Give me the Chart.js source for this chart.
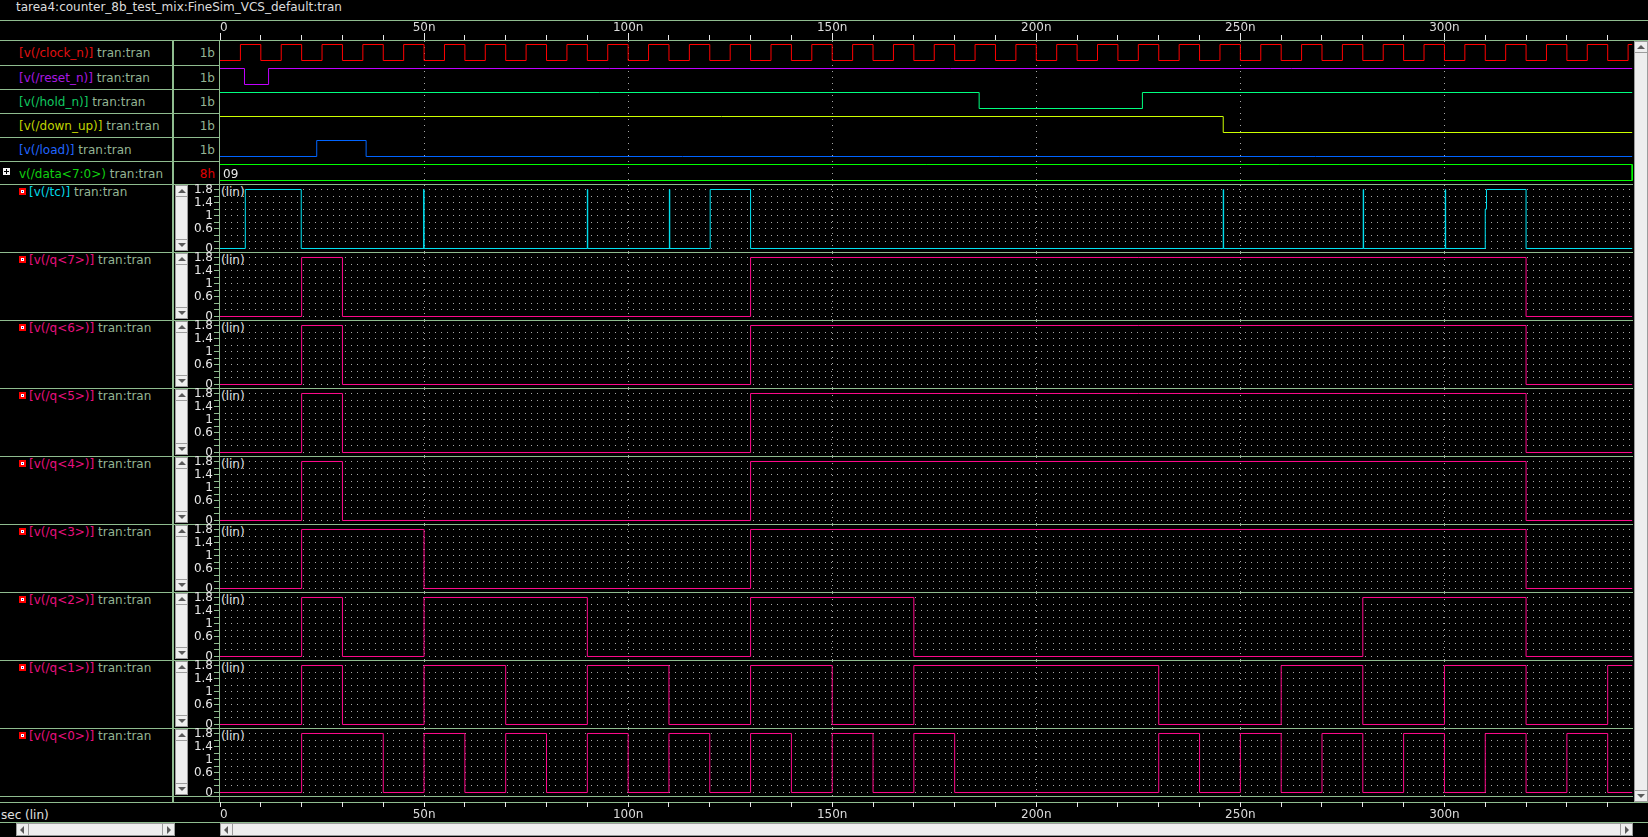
<!DOCTYPE html>
<html>
<head>
<meta charset="utf-8">
<script src="https://cdn.jsdelivr.net/npm/chart.js"></script>
<style>
html,body{margin:0;padding:0;background:#000;}
body{width:1648px;height:837px;overflow:hidden;position:relative;font-family:"DejaVu Sans",sans-serif;font-size:12px;color:#e0e0e0;}
.txt{position:absolute;white-space:nowrap;line-height:15px;height:15px;}
.hl{position:absolute;height:1px;background:#8fbc8f;}
.vl{position:absolute;width:1px;background:#8fbc8f;}
canvas{position:absolute;}
.sb{position:absolute;background:#eeeeee;box-sizing:border-box;border:1px solid #9c9c9c;}
.btn{position:absolute;background:#eeeeee;box-sizing:border-box;border:1px solid #9c9c9c;}
.tri{position:absolute;width:0;height:0;}
.box{position:absolute;}
</style>
</head>
<body>
<script>
// ===================== DATA =====================
const simEnd = 346;        // ns, end of the drawn traces
const viewEnd = 346.2;     // ns, right edge of the visible window
const vdd = 1.8;           // V, logic high of analog traces

// time axis
const axisTickValues = [0,10,20,30,40,50,60,70,80,90,100,110,120,130,140,150,160,170,180,190,200,210,220,230,240,250,260,270,280,290,300,310,320,330,340];
const axisLabelValues = [0,50,100,150,200,250,300];
const axisLabels = ['0','50n','100n','150n','200n','250n','300n'];

// analog y axis
const voltGridValues = [0,0.2,0.4,0.6,0.8,1,1.2,1.4,1.6,1.8];
const voltLabelValues = [0,0.6,1,1.4,1.8];
const voltLabels = ['0','0.6','1','1.4','1.8'];

// digital (1b) signals: start level + toggle times (ns)
const clockStart = 0;
const clockEdges = [5,10,15,20,25,30,35,40,45,50,55,60,65,70,75,80,85,90,95,100,105,110,115,120,125,130,135,140,145,150,155,160,165,170,175,180,185,190,195,200,205,210,215,220,225,230,235,240,245,250,255,260,265,270,275,280,285,290,295,300,305,310,315,320,325,330,335,340,345];
const resetStart = 1;
const resetEdges = [6, 11.9];
const holdStart = 1;
const holdEdges = [186, 226];
const downUpStart = 1;
const downUpEdges = [245.8];
const loadStart = 0;
const loadEdges = [23.7, 35.8];

// bus data<7:0>
const busStarts = [0];
const busValues = ['09'];

// analog tc (time ns, volts)
const tcTimes = [0, 6.2, 19.9, 49.9, 50.0, 90.0, 90.1, 110.1, 110.2, 120.1, 130, 245.8, 245.9, 280.1, 280.2, 300.2, 300.3, 310.0, 310.3, 320];
const tcVolts = [0, 1.8, 0, 1.8, 0, 1.8, 0, 1.8, 0, 1.8, 0, 1.8, 0, 1.8, 0, 1.8, 0, 1.2, 1.8, 0];

// analog q bits: start low, toggle times (ns)
const q7Edges = [20,30,130,320];
const q6Edges = [20,30,130,320];
const q5Edges = [20,30,130,320];
const q4Edges = [20,30,130,320];
const q3Edges = [20,50,130,320];
const q2Edges = [20,30,50,90,130,170,280,320];
const q1Edges = [20,30,50,70,90,110,130,150,170,230,260,280,300,320,340];
const q0Edges = [20,40,50,60,70,80,90,100,110,120,130,140,150,160,170,180,230,240,250,260,270,280,290,300,310,320,330,340];

// names
const titleText = 'tarea4:counter_8b_test_mix:FineSim_VCS_default:tran';
const analysisTag = ' tran:tran';
const digitalNames = ['[v(/clock_n)]','[v(/reset_n)]','[v(/hold_n)]','[v(/down_up)]','[v(/load)]','v(/data<7:0>)'];
const digitalKinds = ['1b','1b','1b','1b','1b','8h'];
const analogNames = ['[v(/tc)]','[v(/q<7>)]','[v(/q<6>)]','[v(/q<5>)]','[v(/q<4>)]','[v(/q<3>)]','[v(/q<2>)]','[v(/q<1>)]','[v(/q<0>)]'];
const xAxisName = 'sec (lin)';
const yScaleTag = '(lin)';

// ===================== STYLE / LAYOUT =====================
const sage = '#8fbc8f';
const tagColor = '#94b494';
const dotColor = '#a8a8a8';
const tickWhite = '#e8e8e8';
const digitalLine = ['#ff0000','#c000ff','#00ff80','#ccff00','#0064ff','#00ff00'];
const digitalText = ['#e01010','#a818e0','#10c860','#c0d400','#2066ff','#10d010'];
const kindColor = ['#94b494','#94b494','#94b494','#94b494','#94b494','#e00000'];
const analogLine = ['#00e5f5','#ff0a8c','#ff0a8c','#ff0a8c','#ff0a8c','#ff0a8c','#ff0a8c','#ff0a8c','#ff0a8c'];
const analogText = ['#00d8e8','#e8107f','#e8107f','#e8107f','#e8107f','#e8107f','#e8107f','#e8107f','#e8107f'];
const X0 = 220, X1 = 1633;
const rowLines = [40,65,89,113,137,161,184];
const panelTop0 = 184, panelH = 68;

Chart.defaults.font.family = '"DejaVu Sans", sans-serif';
Chart.defaults.font.size = 12;

// ===================== HELPERS =====================
function el(cls, css) {
  const e = document.createElement('div');
  if (cls) e.className = cls;
  for (const k in css) e.style[k] = (typeof css[k] === 'number') ? css[k] + 'px' : css[k];
  document.body.appendChild(e);
  return e;
}
function text(x, y, parts, extra) {
  const d = el('txt', Object.assign({left: x, top: y}, extra || {}));
  parts.forEach(([t, c]) => { const s = document.createElement('span'); s.textContent = t; s.style.color = c; d.appendChild(s); });
  return d;
}
function hl(x, y, w) { el('hl', {left: x, top: y, width: w}); }
function vl(x, y, h, w) { el('vl', {left: x, top: y, height: h, width: w || 1}); }
function triUp(cx, top) { el('tri', {left: cx - 4, top: top, borderLeft: '4px solid transparent', borderRight: '4px solid transparent', borderBottom: '4px solid #5a5a5a'}); }
function triDown(cx, top) { el('tri', {left: cx - 4, top: top, borderLeft: '4px solid transparent', borderRight: '4px solid transparent', borderTop: '4px solid #5a5a5a'}); }
function triLeft(left, cy) { el('tri', {left: left, top: cy - 4, borderTop: '4px solid transparent', borderBottom: '4px solid transparent', borderRight: '4px solid #5a5a5a'}); }
function triRight(left, cy) { el('tri', {left: left, top: cy - 4, borderTop: '4px solid transparent', borderBottom: '4px solid transparent', borderLeft: '4px solid #5a5a5a'}); }
function vScroll(x, y, w, h) {
  el('sb', {left: x, top: y, width: w, height: h});
  el('btn', {left: x, top: y, width: w, height: 12});
  el('btn', {left: x, top: y + h - 12, width: w, height: 12});
  triUp(x + w / 2, y + 4);
  triDown(x + w / 2, y + h - 8);
}
function hScroll(x, y, w, h) {
  el('sb', {left: x, top: y, width: w, height: h});
  el('btn', {left: x, top: y, width: 13, height: h});
  el('btn', {left: x + w - 13, top: y, width: 13, height: h});
  triLeft(x + 4, y + h / 2);
  triRight(x + w - 8, y + h / 2);
}
function mkCanvas(x, y, w, h) {
  const c = document.createElement('canvas');
  c.width = w; c.height = h;
  c.style.left = x + 'px'; c.style.top = y + 'px';
  c.style.width = w + 'px'; c.style.height = h + 'px';
  document.body.appendChild(c);
  return c;
}
function zeroPad(s) { s.paddingLeft = 0; s.paddingRight = 0; s.paddingTop = 0; s.paddingBottom = 0; }
function stepPoints(start, edges, high) {
  let v = start;
  const pts = [{x: 0, y: v * high}];
  edges.forEach(t => { v = 1 - v; pts.push({x: t, y: v * high}); });
  pts.push({x: simEnd, y: v * high});
  return pts;
}
function baseOptions() {
  return {
    responsive: false, maintainAspectRatio: false, animation: false, devicePixelRatio: 1, events: [],
    plugins: {legend: {display: false}, tooltip: {enabled: false}},
    layout: {padding: 0}
  };
}
function xGridScale() {
  return {
    type: 'linear', position: 'bottom', min: 0, max: viewEnd, bounds: 'data',
    ticks: {display: false},
    afterBuildTicks: s => { s.ticks = axisLabelValues.filter(v => v > 0).map(v => ({value: v})); },
    afterFit: s => { s.height = 0; zeroPad(s); },
    grid: {color: dotColor, lineWidth: 1, drawTicks: false, drawOnChartArea: true},
    border: {display: false, dash: [1, 5], dashOffset: 0}
  };
}
function lineDataset(points, color) {
  return {data: points, borderColor: color, borderWidth: 1, pointRadius: 0, fill: false, tension: 0, stepped: true};
}
function isLabelled(v) { return axisLabelValues.indexOf(v) >= 0; }

// ===================== FRAME (HTML) =====================
text(16, 0, [[titleText, '#dcdcdc']]);
hl(0, 20, 1648);
hl(0, 40, 1648);
for (let i = 1; i < rowLines.length - 1; i++) hl(0, rowLines[i], 220);
for (let i = 0; i <= analogNames.length; i++) hl(0, panelTop0 + panelH * i, X1);
hl(0, 802, 1648);
hl(0, 822, 1648);
vl(172, 40, 762, 2);
vl(219, 40, 762);

// digital labels
digitalNames.forEach((n, i) => {
  const top = rowLines[i] + 6;
  text(19, top, [[n, digitalText[i]], [analysisTag, tagColor]]);
  text(174, top, [[digitalKinds[i], kindColor[i]]], {width: '41px', textAlign: 'right'});
});
// expand box on bus row
(function () {
  el('box', {left: 3, top: 168, width: 7, height: 7, background: '#f4f4f4'});
  el('box', {left: 4, top: 171, width: 5, height: 1, background: '#000'});
  el('box', {left: 6, top: 169, width: 1, height: 5, background: '#000'});
})();

// analog labels, scrollbars, (lin) tags
analogNames.forEach((n, i) => {
  const T = panelTop0 + panelH * i;
  el('box', {left: 19, top: T + 4, width: 7, height: 7, background: '#ff0000'});
  el('box', {left: 21, top: T + 6, width: 3, height: 3, background: '#ffffff'});
  el('box', {left: 22, top: T + 7, width: 1, height: 1, background: '#0000c0'});
  text(29, T + 1, [[n, analogText[i]], [analysisTag, tagColor]]);
  vScroll(175, T + 1, 13, 66);
  text(221, T + 1, [[yScaleTag, '#e0e0e0']]);
});

text(1, 808, [[xAxisName, '#e0e0e0']]);
vScroll(1634, 41, 14, 761);
hScroll(16, 823, 159, 13);
hScroll(220, 823, 1413, 13);

// ===================== CHARTS =====================
// top and bottom time axes: a labelled major axis plus a minor-tick axis
function axisChart(top, position, majorLen, minorLen, pad) {
  const c = mkCanvas(X0, top, X1 - X0, 24);
  const opts = baseOptions();
  opts.scales = {
    x: {
      type: 'linear', position: position, min: 0, max: viewEnd, bounds: 'data', weight: 1,
      afterBuildTicks: s => { s.ticks = axisTickValues.map(v => ({value: v})); },
      afterFit: s => { s.height = 20; zeroPad(s); },
      ticks: {
        autoSkip: false, maxRotation: 0, minRotation: 0, align: 'inner', padding: pad,
        color: '#dcdcdc', font: {size: 12},
        callback: v => { const i = axisLabelValues.indexOf(v); return i >= 0 ? axisLabels[i] : ''; }
      },
      grid: {
        drawOnChartArea: false, drawTicks: true, tickLength: majorLen,
        tickColor: ctx => (ctx.tick && isLabelled(ctx.tick.value)) ? tickWhite : 'rgba(0,0,0,0)',
        color: 'rgba(0,0,0,0)'
      },
      border: {display: false}
    },
    xm: {
      type: 'linear', axis: 'x', position: position, min: 0, max: viewEnd, bounds: 'data', weight: 0,
      afterBuildTicks: s => { s.ticks = axisTickValues.map(v => ({value: v})); },
      afterFit: s => { s.height = 0; zeroPad(s); },
      ticks: {display: false, autoSkip: false},
      grid: {drawOnChartArea: false, drawTicks: true, tickLength: minorLen, tickColor: tickWhite, color: tickWhite},
      border: {display: false}
    },
    y: {display: false, min: 0, max: 1}
  };
  return new Chart(c, {type: 'line', data: {datasets: []}, options: opts});
}
axisChart(20, 'top', 7, 5, -2);
axisChart(798, 'bottom', 5, 5, 1);

// digital rows
const busTextPlugin = {
  id: 'busText',
  afterDatasetsDraw(chart) {
    const {ctx, scales: {x, y}} = chart;
    ctx.save();
    ctx.font = '12px "DejaVu Sans"';
    ctx.fillStyle = '#e8e8e8';
    ctx.textBaseline = 'alphabetic';
    busStarts.forEach((t, i) => ctx.fillText(busValues[i], x.getPixelForValue(t) + 3, y.getPixelForValue(0.5) + 5));
    ctx.restore();
  }
};
const digitalSeries = [
  stepPoints(clockStart, clockEdges, 1),
  stepPoints(resetStart, resetEdges, 1),
  stepPoints(holdStart, holdEdges, 1),
  stepPoints(downUpStart, downUpEdges, 1),
  stepPoints(loadStart, loadEdges, 1),
  null
];
digitalSeries.forEach((pts, i) => {
  const top = i === 0 ? rowLines[0] + 1 : rowLines[i];
  const h = rowLines[i + 1] - top;
  const c = mkCanvas(X0, top, X1 - X0, h);
  const opts = baseOptions();
  opts.scales = {x: xGridScale(), y: {type: 'linear', display: false, bounds: 'data', min: -(h - 19.5) / 16, max: 1 + 3.5 / 16}};
  let ds, plugins = [];
  if (pts) {
    ds = lineDataset(pts, digitalLine[i]);
  } else {
    const rect = [];
    busStarts.forEach((t, k) => {
      const end = k + 1 < busStarts.length ? busStarts[k + 1] : simEnd;
      rect.push({x: t, y: 1}, {x: end, y: 1}, {x: end, y: 0}, {x: t, y: 0});
    });
    ds = {data: rect, borderColor: digitalLine[i], borderWidth: 1, pointRadius: 0, fill: false, tension: 0};
    plugins = [busTextPlugin];
  }
  new Chart(c, {type: 'line', data: {datasets: [ds]}, options: opts, plugins: plugins});
});

// analog panels
const analogSeries = [
  tcTimes.map((t, k) => ({x: t, y: tcVolts[k]})).concat([{x: simEnd, y: tcVolts[tcVolts.length - 1]}]),
  stepPoints(0, q7Edges, vdd),
  stepPoints(0, q6Edges, vdd),
  stepPoints(0, q5Edges, vdd),
  stepPoints(0, q4Edges, vdd),
  stepPoints(0, q3Edges, vdd),
  stepPoints(0, q2Edges, vdd),
  stepPoints(0, q1Edges, vdd),
  stepPoints(0, q0Edges, vdd)
];
analogSeries.forEach((pts, i) => {
  const T = panelTop0 + panelH * i;
  const c = mkCanvas(188, T - 3, X1 - 188, 71);
  const opts = baseOptions();
  opts.layout = {padding: {top: 4, left: 0, right: 0, bottom: 0}};
  opts.scales = {
    x: xGridScale(),
    y: {
      type: 'linear', position: 'left', min: -0.107, max: 1.937, bounds: 'data',
      afterBuildTicks: s => { s.ticks = voltGridValues.map(v => ({value: v})); },
      afterFit: s => { s.width = 32; zeroPad(s); },
      ticks: {
        autoSkip: false, padding: 1, color: '#e8e8e8', font: {size: 12},
        callback: v => { const k = voltLabelValues.findIndex(u => Math.abs(u - v) < 1e-6); return k >= 0 ? voltLabels[k] : ''; }
      },
      grid: {color: dotColor, lineWidth: 1, drawTicks: true, tickLength: 6, tickColor: sage, tickWidth: 1, drawOnChartArea: true},
      border: {display: false, dash: [1, 5], dashOffset: 1}
    }
  };
  new Chart(c, {type: 'line', data: {datasets: [lineDataset(pts, analogLine[i])]}, options: opts});
});
</script>
</body>
</html>
